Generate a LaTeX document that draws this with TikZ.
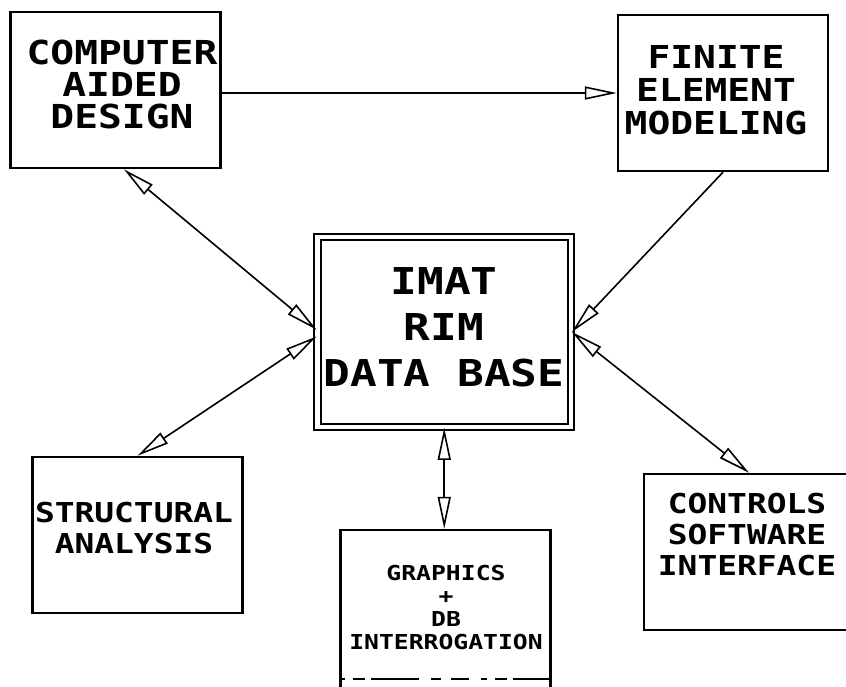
\documentclass[tikz,border=0pt]{standalone}
\usepackage{fontspec}
\usetikzlibrary{arrows.meta}
\newfontfamily\plotfont[FakeStretch=1.2]{DejaVu Sans Mono}

\tikzset{
  box/.style={draw, line width=1.2pt, inner sep=0pt, minimum width=105pt, minimum height=78pt},
  dbbox/.style={draw, double, double distance=2.4pt, line width=0.9pt, inner sep=0pt,
    minimum width=126.75pt, minimum height=95pt},
  txt/.style 2 args={align=center, inner sep=0pt, font=\plotfont\bfseries\fontsize{#1}{#2}\selectfont},
  link/.style={line width=0.8pt, -{Triangle[open, length=16pt, width=6.5pt]}},
  twoway/.style={line width=0.8pt, {Triangle[open, length=16pt, width=6.5pt]}-{Triangle[open, length=16pt, width=6.5pt]}}
}

\begin{document}
\begin{tikzpicture}[x=0.5pt, y=-0.5pt]
	\useasboundingbox (0,0) rectangle (846,686);
	\clip (0,0) rectangle (846,686);
	% boxes
	\node[box] (cad) at (115.5,90) {};
	\node[box] (fem) at (723,93) {};
	\node[dbbox] (db) at (444.25,332) {};
	\node[box] (struct) at (137.5,535) {};
	\node[box, minimum height=82pt] (gfx) at (445.5,612) {};
	\node[box] (ctrl) at (749,552) {};
	% texts
	\node[txt={16.5pt}{16pt}] (cadtext) at (122,84) {COMPUTER\\AIDED\\DESIGN};
	\node[txt={15.8pt}{16.4pt}] (femtext) at (716,90) {FINITE\\ELEMENT\\MODELING};
	\node[txt={18.5pt}{23pt}] (dbtext) at (444,327) {IMAT\\RIM\\DATA BASE};
	\node[txt={13.7pt}{15.75pt}] (structtext) at (134,528) {STRUCTURAL\\ANALYSIS};
	\node[txt={10.3pt}{11.5pt}] (gfxtext) at (446,607) {GRAPHICS\\+\\DB\\INTERROGATION};
	\node[txt={13.7pt}{15.5pt}] (ctrltext) at (747,535) {CONTROLS\\SOFTWARE\\INTERFACE};
	% connectors
	\draw[link] (fem.west -| cad.east) -- (fem.west);
	\draw[twoway] (cad.-84) -- (db.179);
	\draw[twoway] (struct.north) -- (db.182);
	\draw[link] (fem.south) -- (db.east);
	\draw[twoway] (db.east) -- (ctrl.north);
	\draw[twoway] (db.south) -- (db.south |- gfx.north);
	% broken line near the bottom edge
	\draw[line width=1pt, dash pattern=on 3pt off 4pt on 6pt off 3pt on 24pt off 6pt on 5pt off 5pt on 9pt off 6pt]
		([yshift=8pt]gfx.south west) -- ([yshift=8pt]gfx.south east);
\end{tikzpicture}
\end{document}
